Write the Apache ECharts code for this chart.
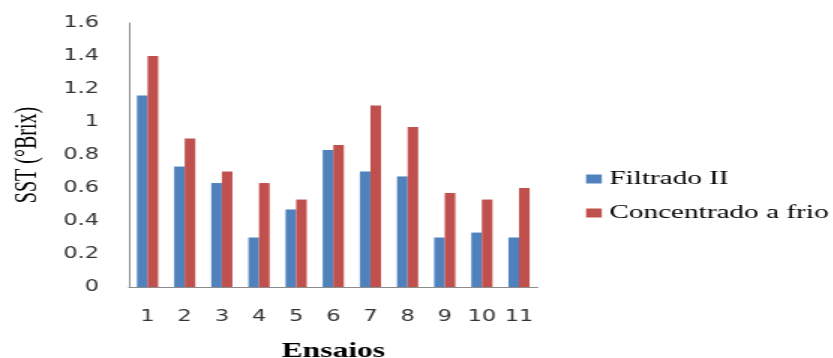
<!DOCTYPE html>
<html>
<head>
<meta charset="utf-8">
<script src="https://cdn.jsdelivr.net/npm/echarts@6/dist/echarts.min.js"></script>
<style>
  html, body { margin: 0; padding: 0; background: #fff; overflow: hidden; }
  /* chart is laid out narrow and stretched horizontally */
  #chart { width: 555.33px; height: 358px; transform: scaleX(1.5); transform-origin: 0 0; }
</style>
</head>
<body>
<div id="chart"></div>
<script>
const categories = ['1', '2', '3', '4', '5', '6', '7', '8', '9', '10', '11'];
const filtradoII = [1.16, 0.73, 0.63, 0.30, 0.47, 0.83, 0.70, 0.67, 0.30, 0.33, 0.30];
const concentradoFrio = [1.40, 0.90, 0.70, 0.63, 0.53, 0.86, 1.10, 0.97, 0.57, 0.53, 0.60];
const seriesNames = ['Filtrado II', 'Concentrado a frio'];
const seriesColors = ['#4F81BD', '#C0504D'];

const chart = echarts.init(document.getElementById('chart'), null, { renderer: 'canvas' });

const tickFont = { fontFamily: 'DejaVu Sans', fontSize: 15, color: '#333' };

chart.setOption({
  animation: false,
  grid: { left: 86, right: 196.6, top: 23, bottom: 71, containLabel: false, outerBoundsMode: 'none' },
  legend: {
    orient: 'vertical',
    left: 390.7,
    top: 169,
    padding: 0,
    itemWidth: 10.5,
    itemHeight: 9,
    itemGap: 14,
    icon: 'rect',
    textStyle: { fontFamily: 'Liberation Serif', fontSize: 19.5, color: '#000' },
    data: seriesNames
  },
  xAxis: {
    type: 'category',
    data: categories,
    name: 'Ensaios',
    nameLocation: 'middle',
    nameGap: 54,
    nameTextStyle: { fontFamily: 'Liberation Serif', fontSize: 21, fontWeight: 'bold', color: '#000' },
    axisLine: { show: true, lineStyle: { color: '#8c8c8c', width: 1 } },
    axisTick: { show: false },
    axisLabel: Object.assign({ margin: 23, interval: 0 }, tickFont),
    splitLine: { show: false }
  },
  yAxis: {
    type: 'value',
    min: 0,
    max: 1.6,
    interval: 0.2,
    name: 'SST (°Brix)',
    nameLocation: 'middle',
    nameGap: 57,
    nameRotate: 90,
    nameTextStyle: { fontFamily: 'Liberation Serif', fontSize: 20, color: '#000' },
    axisLine: { show: true, lineStyle: { color: '#8c8c8c', width: 1 } },
    axisTick: { show: false },
    axisLabel: Object.assign({ margin: 20 }, tickFont),
    splitLine: { show: false }
  },
  series: [
    {
      name: seriesNames[0],
      type: 'bar',
      data: filtradoII,
      itemStyle: { color: seriesColors[0] },
      barGap: '0%',
      barCategoryGap: '43%'
    },
    {
      name: seriesNames[1],
      type: 'bar',
      data: concentradoFrio,
      itemStyle: { color: seriesColors[1] },
      barGap: '0%',
      barCategoryGap: '43%'
    }
  ]
});
</script>
</body>
</html>
